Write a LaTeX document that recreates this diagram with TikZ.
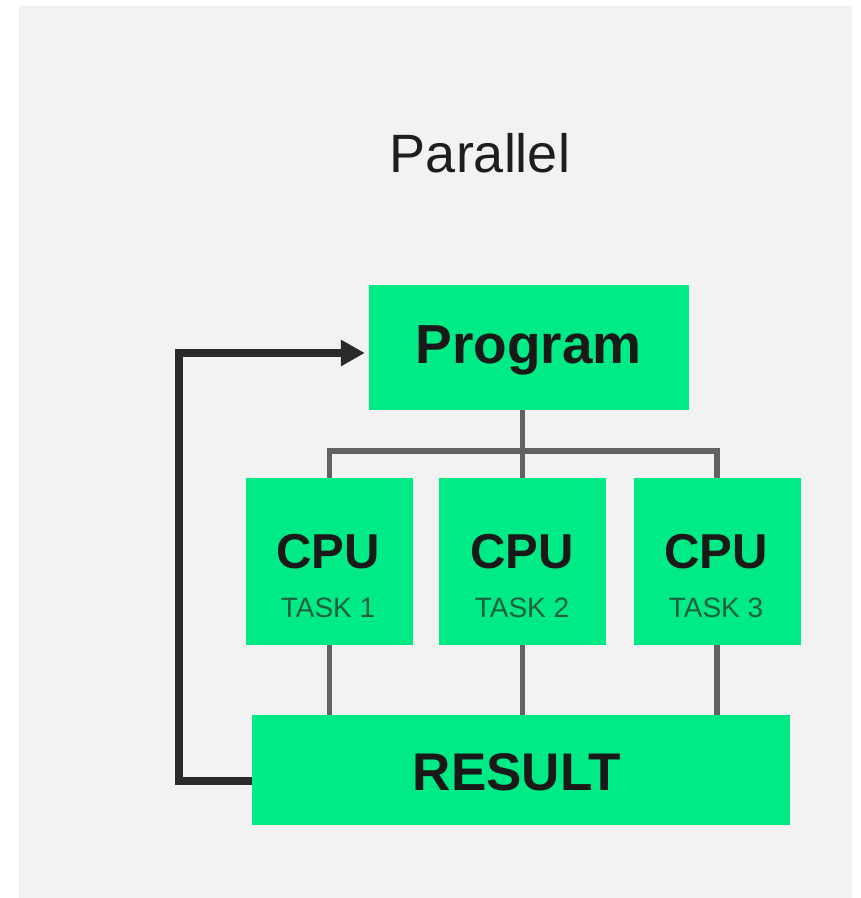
\documentclass[tikz,border=0pt]{standalone}
\usepackage{fontspec}
\setmainfont{Liberation Sans}
\usetikzlibrary{arrows.meta}
\definecolor{bggray}{HTML}{F2F2F2}
\definecolor{boxgreen}{RGB}{0,235,133}
\definecolor{linegray}{HTML}{626262}
\definecolor{fbline}{HTML}{2A2A2A}
\definecolor{tasktext}{RGB}{30,95,65}
\definecolor{titletext}{HTML}{1E1E1E}
\tikzset{
  box/.style={rectangle, fill=boxgreen, draw=none, inner sep=0pt},
  cpubox/.style={box, minimum width=167pt, minimum height=167pt},
  bigtext/.style={anchor=base, inner sep=0pt, text=black!90},
  tasklabel/.style={anchor=base, inner sep=0pt, text=tasktext, font=\fontsize{28}{32}\selectfont},
  cpulabel/.style={bigtext, font=\bfseries\fontsize{49}{54}\selectfont},
  bus/.style={draw=linegray, line width=5.5pt},
  fb/.style={draw=fbline, line width=8pt, line join=miter, -{Triangle[length=24pt,width=25pt]}},
}
\begin{document}
\begin{tikzpicture}[x=1pt,y=-1pt]
\useasboundingbox (0,0) rectangle (861,898);
\fill[bggray] (19,6) rectangle (852,898);

\node[titletext, anchor=base, inner sep=0pt, font=\fontsize{54}{60}\selectfont] (title) at (480,172) {Parallel};

\node[box, minimum width=320pt, minimum height=125pt] (program) at (529,347.5) {};
\node[bigtext, font=\bfseries\fontsize{55}{60}\selectfont] (programtxt) at (528.5,363) {Program};

\node[cpubox] (cpu1) at (329.5,561.5) {};
\node[cpubox] (cpu2) at (522.5,561.5) {};
\node[cpubox] (cpu3) at (717,561.5) {};

\node[cpulabel] (cpu1txt) at (328,568) {CPU};
\node[cpulabel] (cpu2txt) at (522,568) {CPU};
\node[cpulabel] (cpu3txt) at (716,568) {CPU};
\node[tasklabel] (task1) at (328,617) {TASK 1};
\node[tasklabel] (task2) at (522,617) {TASK 2};
\node[tasklabel] (task3) at (716,617) {TASK 3};

\node[box, minimum width=538pt, minimum height=110pt] (result) at (521,770) {};
\node[bigtext, font=\bfseries\fontsize{53}{58}\selectfont] (resulttxt) at (517,790) {RESULT};

\coordinate (busy) at (0,451);
\draw[bus] (cpu2.north |- program.south) -- (cpu2.north |- busy);
\draw[bus, line cap=butt] (cpu1.north) -- (cpu1.north |- busy) -- (cpu3.north |- busy) -- (cpu3.north);
\draw[bus] (cpu2.north |- busy) -- (cpu2.north);
\draw[bus] (cpu1.south) -- (cpu1.south |- result.north);
\draw[bus] (cpu2.south) -- (cpu2.south |- result.north);
\draw[bus] (cpu3.south) -- (cpu3.south |- result.north);

\coordinate (fbcorner) at (179,353);
\draw[fb] ([yshift=-11pt]result.west) -| (fbcorner) -- ([yshift=-5.5pt,xshift=-4pt]program.west);
\end{tikzpicture}
\end{document}
